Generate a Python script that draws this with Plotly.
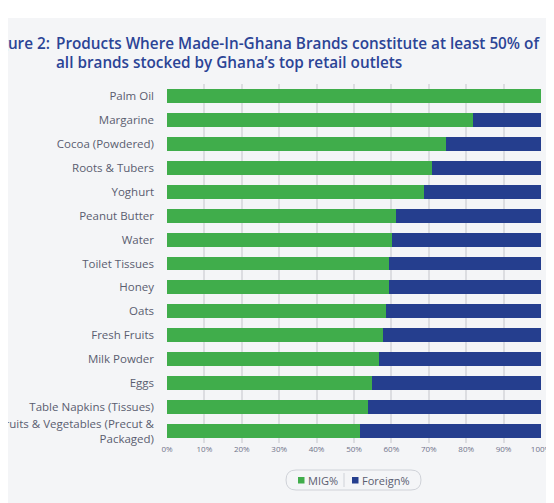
import plotly.graph_objects as go

categories = ["Palm Oil", "Margarine", "Cocoa (Powdered)", "Roots & Tubers", "Yoghurt",
              "Peanut Butter", "Water", "Toilet Tissues", "Honey", "Oats", "Fresh Fruits",
              "Milk Powder", "Eggs", "Table Napkins (Tissues)",
              "Fruits & Vegetables (Precut &<br>Packaged)"]
mig = [100, 81.8, 74.6, 70.9, 68.7, 61.2, 60.2, 59.4, 59.4, 58.6, 57.8, 56.8, 54.9, 53.8, 51.7]
foreign = [0, 18.2, 25.4, 29.1, 31.3, 38.8, 39.8, 40.6, 40.6, 41.4, 42.2, 43.2, 45.1, 46.2, 48.3]
x_ticks = list(range(0, 101, 10))
x_ticktext = [f"{v}%" for v in x_ticks]
series_names = ["MIG%", "Foreign%"]

# the page body has an 8px margin, so the figure is sized to the window minus that
OFF = 8
W, H = 554 - OFF, 503 - OFF
L, R, T = 167 - OFF, 13, 84 - OFF
B = H - (443 - OFF)
PW, PH = W - L - R, H - T - B

# helpers: page pixel -> paper coordinate
def xp(px):
    return (px - OFF - L) / PW

def yp(py):
    return (H - B - (py - OFF)) / PH

green = "#40ad4b"
blue = "#253e8e"
bg = "#f4f5f7"
font = "Open Sans"
label_color = "#5a5d70"

fig = go.Figure()
fig.add_trace(go.Bar(y=categories, x=mig, name=series_names[0], orientation="h",
                     marker=dict(color=green, line_width=0), width=0.58))
fig.add_trace(go.Bar(y=categories, x=foreign, name=series_names[1], orientation="h",
                     marker=dict(color=blue, line_width=0), width=0.58))

fig.update_layout(
    width=W, height=H,
    margin=dict(l=L, r=R, t=T, b=B, autoexpand=False),
    barmode="stack",
    paper_bgcolor=bg, plot_bgcolor=bg,
    font=dict(family=font, color=label_color),
    showlegend=False,
)
fig.update_xaxes(range=[0, 100], tickvals=x_ticks, ticktext=x_ticktext,
                 showgrid=True, gridcolor="#dcdde1", gridwidth=1.5, zeroline=False,
                 tickfont=dict(size=8, color="#70738a"), automargin=False, fixedrange=True)
fig.update_yaxes(autorange="reversed", showgrid=False,
                 tickfont=dict(size=11.5, color=label_color),
                 ticklabelstandoff=12, automargin=False, fixedrange=True)

# top white band
fig.add_shape(type="rect", xref="paper", yref="paper", x0=xp(-10), x1=xp(570),
              y0=yp(18), y1=yp(-10), fillcolor="white", line_width=0, layer="below")

# legend drawn by hand: rounded box, separator, swatches and labels
x0, x1, y0, y1, r = xp(286), xp(421), yp(470), yp(490), 10
rx, ry = r / PW, r / PH
path = (f"M {x0+rx},{y0} L {x1-rx},{y0} Q {x1},{y0} {x1},{y0-ry} "
        f"L {x1},{y1+ry} Q {x1},{y1} {x1-rx},{y1} L {x0+rx},{y1} "
        f"Q {x0},{y1} {x0},{y1+ry} L {x0},{y0-ry} Q {x0},{y0} {x0+rx},{y0} Z")
fig.add_shape(type="path", xref="paper", yref="paper", path=path,
              line=dict(color="#cfd2d8", width=1))
fig.add_shape(type="line", xref="paper", yref="paper", x0=xp(344), x1=xp(344),
              y0=yp(473), y1=yp(487), line=dict(color="#cfd2d8", width=1))
for name, col, sx in [(series_names[0], green, 298), (series_names[1], blue, 352)]:
    fig.add_shape(type="rect", xref="paper", yref="paper", x0=xp(sx), x1=xp(sx + 6.5),
                  y0=yp(483.5), y1=yp(477), fillcolor=col, line_width=0)
    fig.add_annotation(xref="paper", yref="paper", x=xp(sx + 8), y=yp(480.5),
                       xanchor="left", yanchor="middle", text=name, showarrow=False,
                       font=dict(family=font, size=11, color=label_color))

title_color = "#2b4496"
title_font = dict(family=font, size=15.3, weight=600, color=title_color)
fig.add_annotation(xref="paper", yref="paper", x=xp(52), y=yp(43.5), xanchor="right",
                   yanchor="middle", text="Figure 2:", showarrow=False, font=title_font)
fig.add_annotation(xref="paper", yref="paper", x=xp(54), y=yp(43.5), xanchor="left",
                   yanchor="middle", showarrow=False, font=title_font,
                   text="Products Where Made-In-Ghana Brands constitute at least 50% of")
fig.add_annotation(xref="paper", yref="paper", x=xp(54), y=yp(61.5), xanchor="left",
                   yanchor="middle", showarrow=False, font=title_font,
                   text="all brands stocked by Ghana’s top retail outlets")

fig.write_html("out.html")
